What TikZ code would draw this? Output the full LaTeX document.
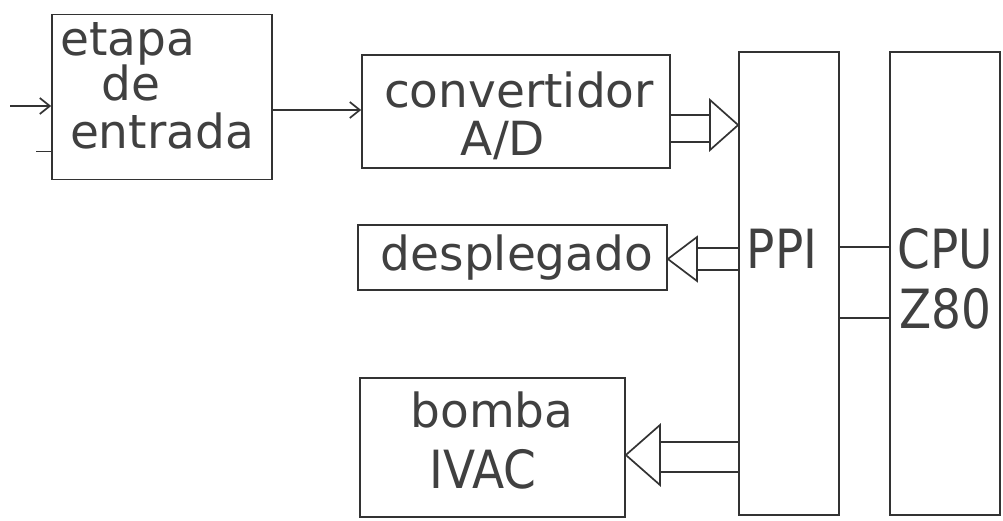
\documentclass[tikz,border=0pt]{standalone}
\usepackage{fontspec}
\setmainfont{DejaVu Sans}
\usetikzlibrary{arrows.meta}
\begin{document}
\begin{tikzpicture}[x=1pt,y=-1pt,
  ln/.style={line width=1.7pt, draw=black!80},
  blk/.style={ln, rectangle, inner sep=0pt, text=black!75, font=\fontsize{47}{46}\selectfont, align=center},
  lbl/.style={inner sep=0pt, text=black!75, font=\fontsize{47}{46}\selectfont, align=center},
  arr/.style={ln, -{Straight Barb[length=10pt,width=16pt,line width=1.7pt]}},
  fat/.style={ln, line join=miter}
]
\useasboundingbox (0,0) rectangle (1003,520);
\fill[white] (0,0) rectangle (1003,520);

% blocks
\node[blk, minimum width=220pt, minimum height=165pt] (etapa) at (162,97) {};
\node[lbl, anchor=base] (t1) at (128,55) {etapa};
\node[lbl, anchor=base] (t2) at (131,100) {de};
\node[lbl, anchor=base] (t3) at (162,148) {entrada};

\node[blk, minimum width=308pt, minimum height=113pt] (conv) at (516,111.5) {};
\node[lbl, anchor=base] (c1) at (519,107) {convertidor};
\node[lbl, anchor=base] (c2) at (503,155) {A/D};

\node[blk, minimum width=309pt, minimum height=65pt] (desp) at (512.5,257.5) {};
\node[lbl, anchor=base] (d1) at (517,270) {desplegado};

\node[blk, minimum width=265pt, minimum height=139pt] (bomba) at (492.5,447.5) {};
\node[lbl, anchor=base] (b1) at (492,427) {bomba};
\node[lbl, anchor=base] (b2) at (483,488) {\scalebox{1}[1.12]{IVAC}};

\node[blk, minimum width=100pt, minimum height=463pt] (ppi) at (789,283.5) {};
\node[lbl, anchor=base] (p1) at (782,268) {\scalebox{1}[1.15]{PPI}};

\node[blk, minimum width=110pt, minimum height=463pt] (cpu) at (945,283.5) {};
\node[lbl, anchor=base] (u1) at (945,268) {\scalebox{1}[1.15]{CPU}};
\node[lbl, anchor=base] (u2) at (945,328) {\scalebox{1}[1.15]{Z80}};

% input
\coordinate (in) at (10,106);
\draw[arr] (in) -- (etapa.west |- in);
\coordinate (stub) at (36,151);
\draw[ln, line width=0.8pt] (stub) -- (etapa.west |- stub);

% etapa -> convertidor
\coordinate (e1) at (etapa.east |- 0,110);
\draw[arr] (e1) -- (conv.west |- e1);

% convertidor => PPI (hollow arrow)
\coordinate (ca) at (conv.east |- 0,115);
\coordinate (cb) at (conv.east |- 0,142);
\draw[fat] (ca) -- (710,115) (cb) -- (710,142);
\coordinate (ctip) at (ppi.west |- 0,125);
\draw[fat] (710,100) -- (ctip) -- (710,150) -- cycle;

% PPI => desplegado
\coordinate (da) at (ppi.west |- 0,248);
\coordinate (db) at (ppi.west |- 0,270);
\draw[fat] (da) -- (697,248) (db) -- (697,270);
\coordinate (dtip) at (desp.east |- 0,259);
\draw[fat] (697,237) -- (dtip) -- (697,281) -- cycle;

% PPI => bomba
\coordinate (ba) at (ppi.west |- 0,442);
\coordinate (bb) at (ppi.west |- 0,472);
\draw[fat] (ba) -- (660,442) (bb) -- (660,472);
\coordinate (btip) at (bomba.east |- 0,455);
\draw[fat] (660,425) -- (btip) -- (660,485) -- cycle;

% PPI -- CPU
\coordinate (k1) at (ppi.east |- 0,247);
\coordinate (k2) at (ppi.east |- 0,318);
\draw[ln] (k1) -- (cpu.west |- k1);
\draw[ln] (k2) -- (cpu.west |- k2);
\end{tikzpicture}
\end{document}
